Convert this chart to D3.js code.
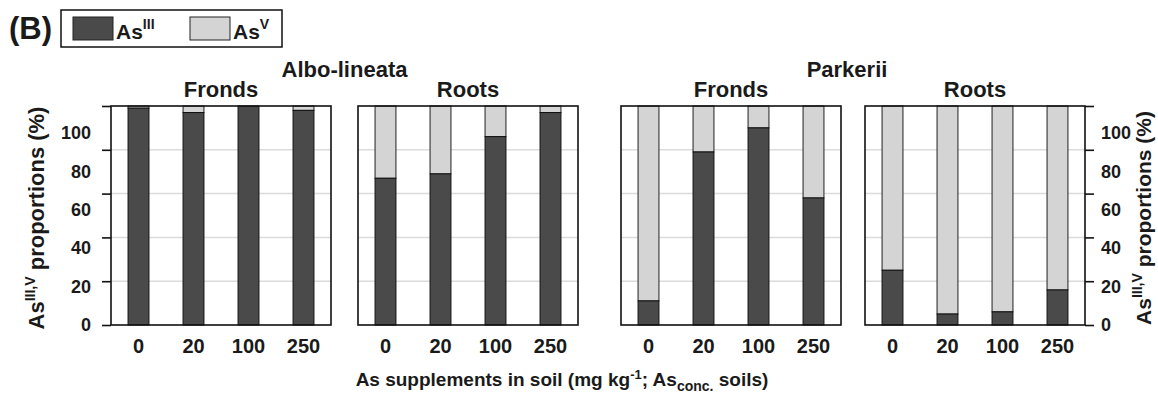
<!DOCTYPE html>
<html>
<head>
<meta charset="utf-8">
<script src="https://cdn.jsdelivr.net/npm/d3@7"></script>
<style>
  body { margin: 0; background: #fff; }
  text { font-family: Arial, 'Liberation Sans', sans-serif; font-weight: bold; fill: #1a1a1a; }
</style>
</head>
<body>
<script>
// As supplement levels (mg/kg) and As(III) share (%) per panel; As(V) is the rest
const doses = ['0', '20', '100', '250'];
const alboFronds = [99, 97, 100, 98];
const alboRoots = [67, 69, 86, 97];
const parkFronds = [11, 79, 90, 58];
const parkRoots = [25, 5, 6, 16];
const yTicks = [0, 20, 40, 60, 80, 100];

const panels = [
  {species: 'Albo-lineata', tissue: 'Fronds', values: alboFronds},
  {species: 'Albo-lineata', tissue: 'Roots', values: alboRoots},
  {species: 'Parkerii', tissue: 'Fronds', values: parkFronds},
  {species: 'Parkerii', tissue: 'Roots', values: parkRoots}
];

const width = 1158;
const height = 395;
const plotTop = 106;
const plotBottom = 325;
const panelW = 220;
const panelLeft = [111, 358, 621, 865];
const dark = '#4a4a4a';
const light = '#d4d4d4';

const svg = d3.select('body').append('svg')
  .attr('width', width)
  .attr('height', height);

const y = d3.scaleLinear().domain([0, 100]).range([plotBottom, plotTop]);
// tick labels in the original are set closer together than the tick marks
const yLabel = d3.scaleLinear().domain([0, 100])
  .range([plotBottom, plotBottom - (plotBottom - plotTop) * 0.877]);
const x = d3.scaleBand().domain(doses).range([0, panelW])
  .paddingInner(0.62).paddingOuter(0.31);

/////////////////////////

const panel = svg.selectAll('.panel').data(panels).enter().append('g')
  .attr('class', 'panel')
  .attr('transform', (d, i) => `translate(${panelLeft[i]},0)`);

// gridlines
panel.selectAll('.grid').data(yTicks.slice(1, -1)).enter().append('line')
  .attr('class', 'grid')
  .attr('x1', 0).attr('x2', panelW)
  .attr('y1', (t) => y(t)).attr('y2', (t) => y(t))
  .attr('stroke', '#dcdcdc')
  .attr('stroke-width', 1.5);

// stacked bars: As(III) at bottom, As(V) above
const bar = panel.selectAll('.bar')
  .data((d) => d.values.map((v, i) => ({dose: doses[i], v: v})))
  .enter().append('g')
  .attr('class', 'bar');

bar.append('rect')
  .attr('x', (d) => x(d.dose))
  .attr('y', y(100))
  .attr('width', x.bandwidth())
  .attr('height', (d) => y(d.v) - y(100))
  .attr('fill', light)
  .attr('stroke', '#222')
  .attr('stroke-width', 1);

bar.append('rect')
  .attr('x', (d) => x(d.dose))
  .attr('y', (d) => y(d.v))
  .attr('width', x.bandwidth())
  .attr('height', (d) => y(0) - y(d.v))
  .attr('fill', dark)
  .attr('stroke', '#111')
  .attr('stroke-width', 1);

// frame
panel.append('rect')
  .attr('x', 0).attr('y', plotTop)
  .attr('width', panelW).attr('height', plotBottom - plotTop)
  .attr('fill', 'none')
  .attr('stroke', '#111')
  .attr('stroke-width', 1.6);

// dose labels
panel.selectAll('.xlab').data(doses).enter().append('text')
  .attr('class', 'xlab')
  .attr('x', (d) => x(d) + x.bandwidth() / 2)
  .attr('y', 353)
  .attr('text-anchor', 'middle')
  .style('font-size', '20px')
  .text((d) => d);

// tissue titles
panel.append('text')
  .attr('x', panelW / 2)
  .attr('y', 97)
  .attr('text-anchor', 'middle')
  .style('font-size', '22px')
  .text((d) => d.tissue);

// species titles, centred over each pair of panels
const species = ['Albo-lineata', 'Parkerii'];
svg.selectAll('.species').data(species).enter().append('text')
  .attr('class', 'species')
  .attr('x', (d, i) => (panelLeft[2 * i] + panelLeft[2 * i + 1] + panelW) / 2 - i * 6)
  .attr('y', 77)
  .attr('text-anchor', 'middle')
  .style('font-size', '22px')
  .text((d) => d);

// y axes: tick marks and labels
function styleAxis(g, size) {
  g.select('.domain').remove();
  g.selectAll('line').attr('stroke', '#111').attr('stroke-width', 1.6);
  g.selectAll('text')
    .style('font-size', size)
    .attr('font-family', null);
}

svg.append('g')
  .attr('transform', `translate(${panelLeft[0]},0)`)
  .call(d3.axisLeft(y).tickValues(yTicks).tickSize(9).tickFormat(''))
  .call((g) => styleAxis(g, '18px'));
svg.append('g')
  .attr('transform', `translate(${panelLeft[0]},0)`)
  .call(d3.axisLeft(yLabel).tickValues(yTicks).tickSize(0).tickPadding(20))
  .call((g) => styleAxis(g, '18px'));

const rightX = panelLeft[3] + panelW;
svg.append('g')
  .attr('transform', `translate(${rightX},0)`)
  .call(d3.axisRight(y).tickValues(yTicks).tickSize(9).tickFormat(''))
  .call((g) => styleAxis(g, '18px'));
svg.append('g')
  .attr('transform', `translate(${rightX},0)`)
  .call(d3.axisRight(yLabel).tickValues(yTicks).tickSize(0).tickPadding(16))
  .call((g) => styleAxis(g, '18px'));

// y titles
[{tx: 44, size: 22}, {tx: 1151, size: 21}].forEach((p) => {
  const t = svg.append('text')
    .attr('transform', `translate(${p.tx},218) rotate(-90)`)
    .attr('text-anchor', 'middle')
    .style('font-size', p.size + 'px');
  t.append('tspan').text('As');
  t.append('tspan').attr('dy', -9).style('font-size', '14px').text('III,V');
  t.append('tspan').attr('dy', 9).text(' proportions (%)');
});

// x title
const xt = svg.append('text')
  .attr('x', 562)
  .attr('y', 386)
  .attr('text-anchor', 'middle')
  .style('font-size', '19px');
xt.append('tspan').text('As supplements in soil (mg kg');
xt.append('tspan').attr('dy', -7).style('font-size', '13px').text('-1');
xt.append('tspan').attr('dy', 7).text('; As');
xt.append('tspan').attr('dy', 5).style('font-size', '14px').text('conc.');
xt.append('tspan').attr('dy', -5).text(' soils)');

// panel letter and legend
svg.append('text')
  .attr('x', 9).attr('y', 39)
  .style('font-size', '31px')
  .text('(B)');

svg.append('rect')
  .attr('x', 61).attr('y', 10)
  .attr('width', 221).attr('height', 37)
  .attr('fill', 'none')
  .attr('stroke', '#111')
  .attr('stroke-width', 1.5);

const legendItems = [
  {label: 'III', color: dark, x: 73},
  {label: 'V', color: light, x: 190}
];
const leg = svg.selectAll('.leg').data(legendItems).enter().append('g')
  .attr('class', 'leg')
  .attr('transform', (d) => `translate(${d.x},17)`);
leg.append('rect')
  .attr('width', 40).attr('height', 23)
  .attr('fill', (d) => d.color)
  .attr('stroke', '#222')
  .attr('stroke-width', 1);
const legText = leg.append('text')
  .attr('x', 43).attr('y', 22)
  .style('font-size', '21px');
legText.append('tspan').text('As');
legText.append('tspan').attr('dy', -10).style('font-size', '14px').text((d) => d.label);
</script>
</body>
</html>
